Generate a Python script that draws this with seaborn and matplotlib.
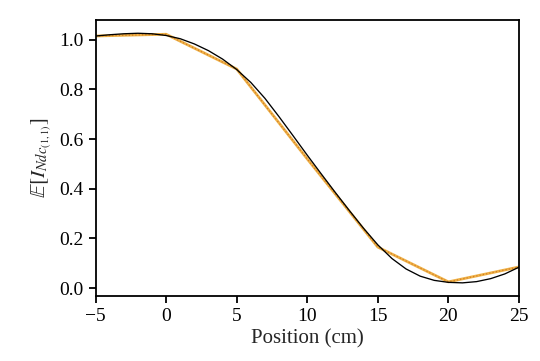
import numpy as np
import pandas as pd
import matplotlib
matplotlib.use('Agg')
import matplotlib.pyplot as plt
import seaborn as sns

pos_fine = [-5, -4, -3, -2, -1, 0, 1, 2, 3, 4, 5, 6, 7, 8, 9, 10,
            11, 12, 13, 14, 15, 16, 17, 18, 19, 20, 21, 22, 23, 24, 25]
val_fine = [1.015, 1.020, 1.024, 1.026, 1.024, 1.017, 1.004, 0.983, 0.956, 0.922,
            0.880, 0.828, 0.764, 0.690, 0.613, 0.535, 0.459, 0.384, 0.311, 0.240,
            0.174, 0.119, 0.077, 0.048, 0.031, 0.023, 0.021, 0.026, 0.038, 0.057, 0.084]

# coarse estimate at 5 cm steps
pos_coarse = [-5, 0, 5, 10, 15, 20, 25]
val_coarse = [1.015, 1.022, 0.882, 0.520, 0.165, 0.025, 0.085]

fine = pd.DataFrame({'pos': pos_fine, 'val': val_fine})
coarse = pd.DataFrame({'pos': pos_coarse, 'val': val_coarse})

sns.set_style('ticks')
plt.rcParams['font.family'] = ['Liberation Serif', 'DejaVu Serif']
plt.rcParams['mathtext.fontset'] = 'stix'
plt.rcParams['axes.linewidth'] = 1.3

fig = plt.figure(figsize=(5.4, 3.61), dpi=100)
ax = fig.add_axes([0.177, 0.18, 0.784, 0.765])

sns.lineplot(data=coarse, x='pos', y='val', ax=ax, color='#efb247', lw=2.0)
sns.lineplot(data=coarse, x='pos', y='val', ax=ax, color='#d27a26', lw=0.9, ls=':')
sns.lineplot(data=fine, x='pos', y='val', ax=ax, color='black', lw=0.95)

ax.set_xlim(-5, 25)
ax.set_ylim(-0.032, 1.08)
ax.set_xticks([-5, 0, 5, 10, 15, 20, 25])
ax.set_yticks([0.0, 0.2, 0.4, 0.6, 0.8, 1.0])
ax.set_xlabel('Position (cm)', fontsize=15, labelpad=3)
ax.set_ylabel(r'$\mathbb{E}[I_{Ndc_{(1,1)}}]$', fontsize=15, labelpad=4)
ax.tick_params(labelsize=14, width=1.3, length=5, color='black', labelcolor='black')
for s in ax.spines.values():
    s.set_color('black')

fig.savefig('out.png', dpi=100)
